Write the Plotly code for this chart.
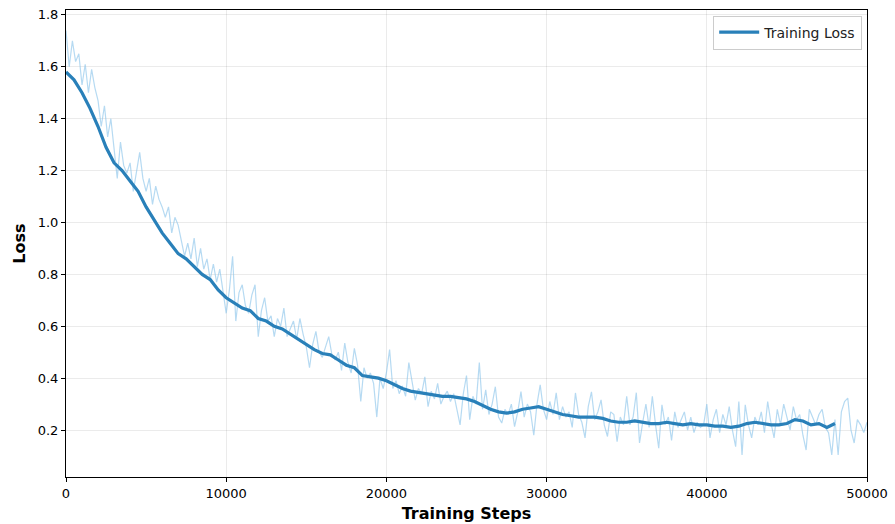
import plotly.graph_objects as go

# ---- data ----
raw_steps = list(range(0, 50001, 200))
raw_loss = [
    # 0 - 4800
    1.74, 1.60, 1.70, 1.62, 1.65, 1.53, 1.61, 1.50, 1.59, 1.52, 1.47, 1.37, 1.45,
    1.33, 1.40, 1.29, 1.17, 1.31, 1.22, 1.19, 1.23, 1.12, 1.20, 1.27, 1.17,
    # 5000 - 9800
    1.12, 1.17, 1.07, 1.14, 1.09, 1.06, 1.02, 1.06, 0.96, 1.02, 0.99, 0.93, 0.87,
    0.92, 0.86, 0.94, 0.83, 0.90, 0.82, 0.86, 0.78, 0.84, 0.77, 0.82, 0.74,
    # 10000 - 14800
    0.65, 0.74, 0.87, 0.62, 0.73, 0.76, 0.68, 0.65, 0.72, 0.76, 0.56, 0.66, 0.71,
    0.62, 0.64, 0.56, 0.63, 0.60, 0.67, 0.56, 0.59, 0.62, 0.55, 0.63, 0.57,
    # 15000 - 19800
    0.52, 0.44, 0.53, 0.58, 0.50, 0.48, 0.52, 0.56, 0.49, 0.47, 0.50, 0.43, 0.535,
    0.46, 0.42, 0.515, 0.45, 0.31, 0.44, 0.40, 0.42, 0.38, 0.25, 0.40, 0.36,
    # 20000 - 24800
    0.42, 0.51, 0.36, 0.39, 0.34, 0.37, 0.33, 0.46, 0.38, 0.315, 0.36, 0.34, 0.405,
    0.29, 0.35, 0.32, 0.38, 0.30, 0.33, 0.35, 0.31, 0.34, 0.28, 0.22, 0.34,
    # 25000 - 29800
    0.41, 0.24, 0.33, 0.30, 0.46, 0.28, 0.355, 0.26, 0.30, 0.367, 0.25, 0.227, 0.28,
    0.26, 0.30, 0.213, 0.27, 0.348, 0.25, 0.30, 0.27, 0.18, 0.30, 0.374, 0.28,
    # 30000 - 34800
    0.24, 0.31, 0.26, 0.343, 0.24, 0.29, 0.25, 0.27, 0.21, 0.343, 0.26, 0.23, 0.17,
    0.29, 0.347, 0.24, 0.27, 0.316, 0.22, 0.175, 0.27, 0.26, 0.155, 0.25, 0.22,
    # 35000 - 39800
    0.33, 0.22, 0.25, 0.344, 0.15, 0.23, 0.30, 0.21, 0.33, 0.22, 0.13, 0.297, 0.22,
    0.25, 0.16, 0.27, 0.21, 0.24, 0.27, 0.20, 0.25, 0.19, 0.23, 0.21, 0.22,
    # 40000 - 44800
    0.30, 0.17, 0.24, 0.28, 0.19, 0.26, 0.22, 0.29, 0.20, 0.136, 0.31, 0.104, 0.297,
    0.22, 0.17, 0.25, 0.22, 0.27, 0.19, 0.31, 0.23, 0.17, 0.28, 0.22, 0.30,
    # 45000 - 50000
    0.25, 0.20, 0.29, 0.24, 0.26, 0.18, 0.123, 0.28, 0.25, 0.22, 0.26, 0.28, 0.21,
    0.19, 0.104, 0.24, 0.104, 0.27, 0.31, 0.323, 0.20, 0.15, 0.24, 0.22, 0.19, 0.23,
]

smooth_steps = list(range(0, 48001, 500))
smooth_loss = [
    1.58, 1.55, 1.50, 1.44, 1.37, 1.29, 1.23, 1.20, 1.16, 1.12,
    1.06, 1.01, 0.96, 0.92, 0.88, 0.86, 0.83, 0.80, 0.78, 0.74,
    0.71, 0.69, 0.67, 0.66, 0.63, 0.62, 0.60, 0.59, 0.57, 0.55,
    0.53, 0.51, 0.495, 0.49, 0.47, 0.45, 0.44, 0.41, 0.405, 0.40,
    0.39, 0.375, 0.36, 0.35, 0.345, 0.34, 0.335, 0.33, 0.33, 0.325,
    0.32, 0.31, 0.295, 0.28, 0.27, 0.265, 0.27, 0.28, 0.285, 0.29,
    0.28, 0.27, 0.26, 0.255, 0.25, 0.25, 0.25, 0.245, 0.235, 0.23,
    0.23, 0.235, 0.23, 0.225, 0.225, 0.23, 0.225, 0.22, 0.225, 0.22,
    0.22, 0.215, 0.215, 0.21, 0.215, 0.225, 0.23, 0.225, 0.22, 0.22,
    0.225, 0.24, 0.235, 0.22, 0.225, 0.21, 0.225,
]

x_ticks = [0, 10000, 20000, 30000, 40000, 50000]
y_ticks = [0.2, 0.4, 0.6, 0.8, 1.0, 1.2, 1.4, 1.6, 1.8]

FONT = "DejaVu Sans"

fig = go.Figure()
fig.add_trace(go.Scatter(
    x=raw_steps, y=raw_loss, mode="lines",
    line=dict(color="rgba(133,193,233,0.6)", width=1.2),
    showlegend=False, hoverinfo="skip",
))
fig.add_trace(go.Scatter(
    x=smooth_steps, y=smooth_loss, mode="lines",
    name="Training Loss",
    line=dict(color="#2980b9", width=3.2),
))

axis_common = dict(
    showline=True, linecolor="black", linewidth=1, mirror=True,
    ticks="outside", ticklen=4, tickcolor="black", tickwidth=1,
    showgrid=True, gridcolor="rgba(0,0,0,0.08)", gridwidth=1,
    zeroline=False, automargin=False,
    tickfont=dict(family=FONT, size=13, color="black"),
)

fig.update_xaxes(
    range=[0, 50000], tickvals=x_ticks, ticktext=[str(v) for v in x_ticks],
    title=dict(text="<b>Training Steps</b>", font=dict(family=FONT, size=16, color="black"), standoff=8),
    **axis_common,
)
fig.update_yaxes(
    range=[0.019, 1.819], tickvals=y_ticks, ticktext=[f"{v:.1f}" for v in y_ticks],
    title=dict(text="<b>Loss</b>", font=dict(family=FONT, size=16, color="black"), standoff=8),
    **axis_common,
)

fig.update_layout(
    width=895, height=524,
    margin=dict(l=66, r=28, t=10, b=47),
    paper_bgcolor="white", plot_bgcolor="white",
    font=dict(family=FONT, size=13, color="black"),
    legend=dict(
        x=0.994, y=0.988, xanchor="right", yanchor="top",
        bgcolor="rgba(255,255,255,0.85)", bordercolor="#cccccc", borderwidth=1,
        font=dict(family=FONT, size=14, color="#222222"),
        itemwidth=40,
    ),
)

fig.write_html("out.html")
